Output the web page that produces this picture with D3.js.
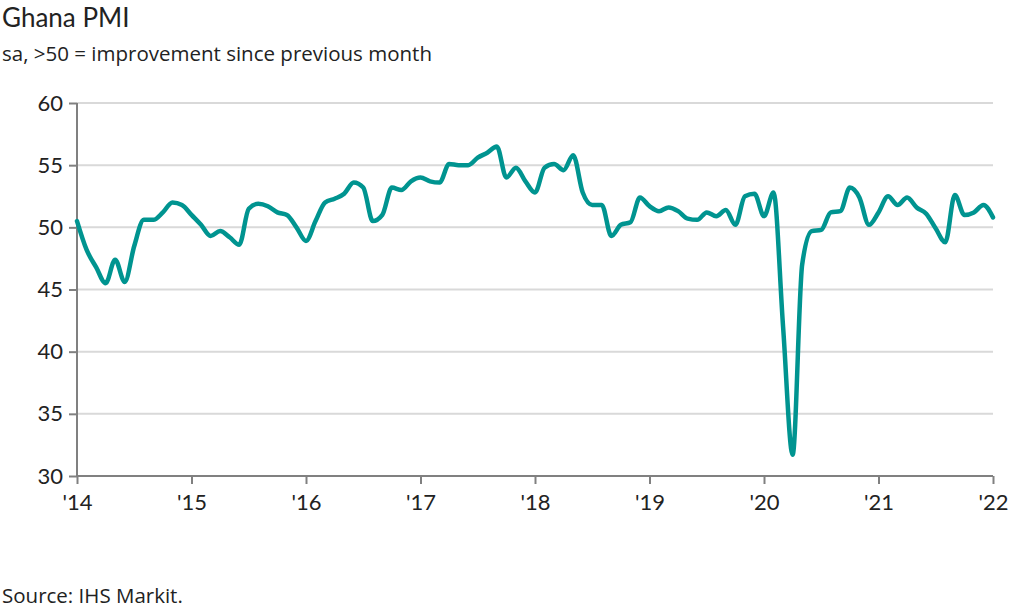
<!DOCTYPE html>
<html><head><meta charset="utf-8">
<script src="https://cdn.jsdelivr.net/npm/d3@7"></script>
<style>body{margin:0;background:#fff;font-family:Lato,"Open Sans",sans-serif}</style>
</head><body><svg id="c" width="1010" height="607"></svg>
<script>
const startYear = 2014;
const pmi = [
50.5,48.2,46.8,45.5,47.4,45.6,48.5,50.6,50.6,51.2,52.0,51.8,
51.0,50.2,49.3,49.7,49.2,48.6,51.5,51.9,51.7,51.2,51.0,50.0,
48.9,50.5,52.0,52.3,52.7,53.6,53.2,50.5,51.0,53.2,53.0,53.7,
54.0,53.7,53.6,55.1,55.0,55.0,55.6,56.0,56.5,54.0,54.8,53.7,
52.8,54.8,55.1,54.6,55.8,52.8,51.8,51.8,49.3,50.2,50.4,52.4,
51.7,51.3,51.6,51.3,50.7,50.6,51.2,50.9,51.4,50.2,52.5,52.7,
50.9,52.8,42.0,31.7,47.0,49.7,49.8,51.2,51.3,53.2,52.4,50.2,
51.2,52.5,51.8,52.4,51.6,51.1,49.9,48.8,52.6,51.0,51.2,51.8,
50.8];
const yTicks = [30,35,40,45,50,55,60];
const xTickLabels = ["'14","'15","'16","'17","'18","'19","'20","'21","'22"];

const svg = d3.select("#c");
const x = d3.scaleLinear().domain([0, 96]).range([77, 993]);
const y = d3.scaleLinear().domain([30, 60]).range([476, 103]);
const grey = "#808080";

svg.append("text").attr("x",2).attr("y",27).attr("font-size",26).attr("fill","#222").text("Ghana PMI");
svg.append("text").attr("x",2).attr("y",61).attr("font-size",20.5).attr("font-family","'Open Sans',sans-serif").attr("fill","#222").text("sa, >50 = improvement since previous month");
svg.append("text").attr("x",2).attr("y",603).attr("font-size",20.5).attr("font-family","'Open Sans',sans-serif").attr("fill","#222").text("Source: IHS Markit.");

svg.append("g").selectAll("line").data(yTicks).join("line")
  .attr("x1",77).attr("x2",993).attr("y1",d=>y(d)).attr("y2",d=>y(d))
  .attr("stroke","#d9d9d9").attr("stroke-width",2);

const ya = svg.append("g").attr("transform","translate(77,0)")
  .call(d3.axisLeft(y).tickValues(yTicks).tickSize(8).tickPadding(6));
ya.selectAll("text").attr("font-size",22).attr("fill","#222").attr("font-family","Lato,sans-serif");
ya.selectAll("line,path").attr("stroke",grey).attr("stroke-width",2);
ya.select(".domain").attr("d","M0,"+y(30)+"V"+y(60));

const xa = svg.append("g").attr("transform","translate(0,476)")
  .call(d3.axisBottom(x).tickValues(d3.range(0,97,12)).tickFormat((d,i)=>xTickLabels[i]).tickSize(8).tickPadding(10));
xa.selectAll("text").attr("font-size",22).attr("fill","#222").attr("font-family","Lato,sans-serif");
xa.selectAll("line,path").attr("stroke",grey).attr("stroke-width",2);
xa.select(".domain").attr("d","M77,0H993");

svg.append("path").datum(pmi)
  .attr("d", d3.line().x((d,i)=>x(i)).y(d=>y(d)).curve(d3.curveMonotoneX))
  .attr("fill","none").attr("stroke","#009490").attr("stroke-width",4.5)
  .attr("stroke-linejoin","round").attr("stroke-linecap","round");
</script></body></html>
